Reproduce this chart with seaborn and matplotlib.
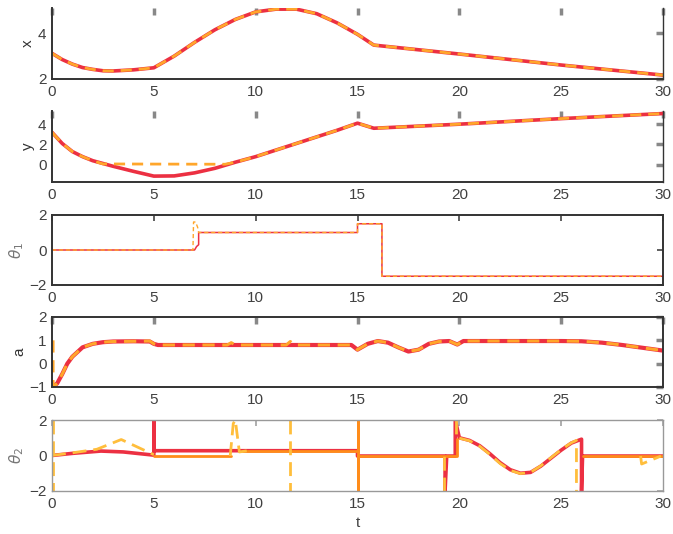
import numpy as np
import pandas as pd
import matplotlib
matplotlib.use('Agg')
import matplotlib.pyplot as plt
import seaborn as sns

# -- data --
t_x = [0, 0.5, 1, 1.5, 2, 2.5, 3, 4, 5, 6, 7, 8, 9, 10, 11, 12, 13, 14, 15, 15.8, 20, 25, 30]
x_vals = [3.12, 2.85, 2.65, 2.5, 2.42, 2.36, 2.35, 2.4, 2.49, 3.0, 3.6, 4.15, 4.6, 4.93,
          5.05, 5.05, 4.85, 4.45, 3.95, 3.48, 3.09, 2.61, 2.17]

t_y = [0, 0.5, 1, 1.5, 2, 3, 4, 5, 6, 7, 8, 8.5, 9, 10, 11, 12, 13, 14, 15, 15.8, 20, 25, 30]
y_vals = [3.2, 2.1, 1.3, 0.8, 0.4, -0.15, -0.65, -1.12, -1.1, -0.8, -0.35, -0.05, 0.25, 0.8,
          1.45, 2.1, 2.75, 3.4, 4.1, 3.6, 4.0, 4.55, 5.05]
t_yref = [0, 0.5, 1, 1.5, 2, 2.5, 8.5, 9, 10, 11, 12, 13, 14, 15, 15.8, 20, 25, 30]
y_ref = [3.2, 2.1, 1.3, 0.8, 0.4, 0.08, 0.05, 0.25, 0.8, 1.45, 2.1, 2.75, 3.4, 4.1, 3.6,
         4.0, 4.55, 5.05]

t_th1 = [0, 7.0, 7.1, 7.2, 7.2, 15.0, 15.0, 16.2, 16.2, 30]
th1_vals = [0, 0, 0.2, 0.3, 1.0, 1.0, 1.5, 1.5, -1.5, -1.5]
t_th1ref = [0, 6.92, 6.95, 7.05, 7.15, 7.2, 15.0, 15.0, 16.2, 16.2, 30]
th1_ref = [0, 0, 1.6, 1.6, 1.3, 1.0, 1.0, 1.5, 1.5, -1.5, -1.5]

t_a = [0, 0.25, 0.5, 0.75, 1, 1.25, 1.5, 2, 2.5, 3, 4, 4.8, 5.0, 5.2, 10, 14.7, 15, 15.5,
       16, 16.5, 17, 17.5, 18, 18.5, 19, 19.5, 19.9, 20.2, 25, 26, 27, 28, 29, 30]
a_vals = [-1.0, -0.85, -0.45, 0.0, 0.3, 0.5, 0.7, 0.85, 0.92, 0.95, 0.96, 0.95, 0.85, 0.8,
          0.8, 0.8, 0.6, 0.85, 0.97, 0.9, 0.7, 0.52, 0.6, 0.85, 0.95, 0.97, 0.82, 0.97, 0.97,
          0.96, 0.9, 0.8, 0.68, 0.56]
t_aref = [0.05, 0.05, 0.25, 0.5, 0.75, 1, 1.25, 1.5, 2, 2.5, 3, 4, 4.8, 5.0, 5.2, 8.6, 8.8,
          9.0, 11.5, 11.7, 11.9, 14.7, 15, 15.5, 16, 16.5, 17, 17.5, 18, 18.5, 19, 19.5, 19.9,
          20.2, 25, 26, 27, 28, 29, 30]
a_ref = [1.0, -1.0, -0.85, -0.45, 0.0, 0.3, 0.5, 0.7, 0.85, 0.92, 0.95, 0.96, 0.97, 0.85, 0.8,
         0.8, 0.9, 0.8, 0.8, 0.95, 0.8, 0.8, 0.6, 0.85, 0.97, 0.9, 0.7, 0.52, 0.6, 0.85, 0.95,
         0.97, 0.82, 0.97, 0.97, 0.96, 0.9, 0.8, 0.68, 0.56]

# theta_2: red solid, orange solid, yellow-orange dashed (segments numbered)
t_th2 = [0, 1, 2.4, 3.5, 5.0, 5.0, 5.02, 15.0, 15.0, 19.3, 19.3, 19.38, 19.8, 19.8, 20.0,
         20.5, 21, 21.5, 22, 22.5, 23, 23.5, 24, 24.5, 25, 25.5, 26.0, 26.0, 26.05, 30]
th2_vals = [0, 0.12, 0.25, 0.2, 0.02, 2.0, 0.27, 0.27, -0.03, -0.03, -2.0, -0.03, -0.03, 2.0,
            1.0, 0.85, 0.55, 0.1, -0.4, -0.8, -1.0, -0.95, -0.6, -0.15, 0.3, 0.7, 0.92, -2.0,
            -0.03, -0.03]
t_th2b = [5.0, 8.8, 9.4, 15.0, 15.0, 15.0, 15.0, 19.9, 19.9, 26.05, 30]
th2b_vals = [-0.03, -0.03, 0.27, 0.27, 2.0, -2.0, -0.03, -0.03, 0.95, -0.03, -0.03]
th2b_seg = [0, 0, 1, 1, 1, 1, 1, 1, 1, 2, 2]
t_th2c = [0.05, 0.05, 0, 1, 2.2, 3.4, 4.9, 5.0, 8.75, 8.9, 9.0, 9.2, 9.6, 11.7, 11.7,
          19.25, 19.25, 19.85, 19.85, 20.0, 20.5, 21, 21.5, 22, 22.5, 23, 23.5, 24, 24.5,
          25, 25.5, 25.75, 25.75, 28.9, 28.95, 29.9]
th2c_vals = [2.0, -2.0, 0, 0.15, 0.35, 0.9, 0.1, 0.05, -0.03, 1.8, 2.0, 0.2, 0.27, 2.0, -2.0,
             -2.0, -0.03, 2.0, 0.9, 0.98, 0.83, 0.52, 0.06, -0.45, -0.84, -1.02, -0.95,
             -0.58, -0.12, 0.33, 0.72, 0.85, -2.0, -0.03, -0.48, -0.03]
th2c_seg = [0, 0, 1, 1, 1, 1, 1, 1, 2, 2, 2, 2, 2, 3, 3, 4, 4, 5, 5, 6, 6, 6, 6, 6, 6, 6,
            6, 6, 6, 6, 6, 6, 6, 7, 7, 7]

x_ticks = [0, 5, 10, 15, 20, 25, 30]

RED = '#EC3042'
ORANGE = '#FFA62B'
ORANGE2 = '#FF8C1A'
YELLOW = '#FFBE3C'

sns.set_style('white')
plt.rcParams['font.family'] = ['Liberation Sans', 'DejaVu Sans']
plt.rcParams['mathtext.fontset'] = 'dejavusans'

fig = plt.figure(figsize=(6.73, 5.34), dpi=100)
left, width = 52 / 673, 611 / 673
boxes = [(8, 79), (111, 182), (215, 285), (317, 387), (420, 491)]
axes = [fig.add_axes([left, 1 - b / 534, width, (b - tp) / 534]) for tp, b in boxes]


def pair(ax, t1, v1, t2, v2, lw_red=2.6, lw_or=2.0, dash=(4, 2.5)):
    sns.lineplot(x=t1, y=v1, ax=ax, color=RED, linewidth=lw_red, sort=False, estimator=None)
    sns.lineplot(x=t2, y=v2, ax=ax, color=ORANGE, linewidth=lw_or, sort=False,
                 estimator=None, dashes=False).lines[-1].set_dashes(dash)


pair(axes[0], t_x, x_vals, t_x, x_vals)
pair(axes[1], t_y, y_vals, t_yref, y_ref)
pair(axes[2], t_th1, th1_vals, t_th1ref, th1_ref, lw_red=1.1, lw_or=1.0, dash=(3, 2))
pair(axes[3], t_a, a_vals, t_aref, a_ref, lw_red=3.0, lw_or=2.2)

ax = axes[4]
sns.lineplot(x=t_th2, y=th2_vals, ax=ax, color=RED, linewidth=2.6, sort=False, estimator=None)
df_b = pd.DataFrame({'t': t_th2b, 'v': th2b_vals, 'seg': th2b_seg})
sns.lineplot(data=df_b, x='t', y='v', units='seg', ax=ax, color=ORANGE2, linewidth=2.0,
             sort=False, estimator=None)
df_c = pd.DataFrame({'t': t_th2c, 'v': th2c_vals, 'seg': th2c_seg})
sns.lineplot(data=df_c, x='t', y='v', units='seg', ax=ax, color=YELLOW, linewidth=2.0,
             sort=False, estimator=None)
for ln in ax.lines[-8:]:
    ln.set_dashes((5, 2.5))

ylims = [(2, 5.1), (-1.7, 5.3), (-2, 2), (-1, 2), (-2, 2)]
yticks = [[2, 4], [0, 2, 4], [-2, 0, 2], [-1, 0, 1, 2], [-2, 0, 2]]
ylabels = ['x', 'y', r'$\theta_1$', 'a', r'$\theta_2$']

for i, ax in enumerate(axes):
    ax.set_xlim(0, 30)
    ax.set_ylim(*ylims[i])
    ax.set_xticks(x_ticks)
    ax.set_yticks(yticks[i])
    ax.set_xlabel('')
    lab_col = '#777777' if i in (2, 4) else '#333333'
    ax.set_ylabel(ylabels[i], fontsize=11, color=lab_col, labelpad=2)
    heavy = i in (0, 1, 3)
    ax.tick_params(direction='in', top=True, right=True, labelsize=11, labelcolor='#404040',
                   length=5 if heavy else 4, width=2.5 if heavy else 1.1,
                   color='#888888' if heavy else '#333333', pad=4)
    for side, sp in ax.spines.items():
        sp.set_linewidth(1.4)
        sp.set_color('#333333')
    if i in (0, 1):
        ax.spines['top'].set_visible(False)
        ax.spines['right'].set_linewidth(1.0)
    if i == 4:
        for sp in ax.spines.values():
            sp.set_color('#999999')
            sp.set_linewidth(1.0)
        ax.tick_params(color='#999999')

axes[4].set_xlabel('t', fontsize=11, color='#404040', labelpad=4)

fig.savefig('out.png', dpi=100)
